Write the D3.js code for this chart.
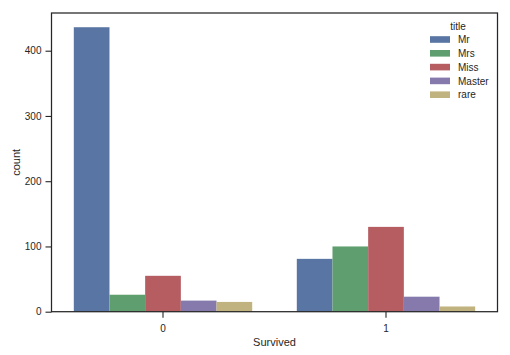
<!DOCTYPE html>
<html>
<head>
<meta charset="utf-8">
<script src="https://cdn.jsdelivr.net/npm/d3@7"></script>
<style>
  html, body { margin: 0; padding: 0; background: #fff; }
  svg text { font-family: "Liberation Sans", Arial, sans-serif; fill: #262626; }
</style>
</head>
<body>
<svg id="chart" width="510" height="355"></svg>
<script>
const categories = ["0", "1"];
const titles = ["Mr", "Mrs", "Miss", "Master", "rare"];
const colors = ["#5975a4", "#5f9e6e", "#b55d60", "#857aab", "#c1b37f"];
const counts = {
  "Mr":     [436, 81],
  "Mrs":    [26, 100],
  "Miss":   [55, 130],
  "Master": [17, 23],
  "rare":   [15, 8]
};
const yTicks = [0, 100, 200, 300, 400];

const svg = d3.select("#chart");
const m = { left: 51.5, right: 497.5, top: 13, bottom: 311.7 };

const x = d3.scaleBand().domain(categories).range([m.left, m.right]).padding(0);
const inner = d3.scaleBand().domain(titles)
  .range([x.bandwidth() * 0.1, x.bandwidth() * 0.9]).padding(0);
const maxVal = d3.max(titles, t => d3.max(counts[t]));
const y = d3.scaleLinear().domain([0, maxVal * 1.05]).range([m.bottom, m.top]);

const data = [];
categories.forEach((c, ci) => titles.forEach((t, ti) => data.push({ c, t, v: counts[t][ci], color: colors[ti] })));

svg.append("g").selectAll("rect").data(data).join("rect")
  .attr("x", d => x(d.c) + inner(d.t))
  .attr("width", inner.bandwidth())
  .attr("y", d => y(d.v))
  .attr("height", d => y(0) - y(d.v))
  .attr("fill", d => d.color);

// axes
const xAxis = d3.axisBottom(x).tickSizeInner(6).tickSizeOuter(0).tickPadding(7);
const gx = svg.append("g").attr("transform", `translate(0,${m.bottom})`).call(xAxis);
const yAxis = d3.axisLeft(y).tickValues(yTicks).tickSizeInner(6).tickSizeOuter(0).tickPadding(4);
const gy = svg.append("g").attr("transform", `translate(${m.left},0)`).call(yAxis);
[gx, gy].forEach(g => {
  g.select(".domain").remove();
  g.selectAll(".tick line").attr("stroke", "#262626").attr("stroke-width", 1.1);
  g.selectAll(".tick text").attr("font-size", 10).style("fill", "#262626")
    .attr("font-family", "Liberation Sans, Arial, sans-serif");
});

// frame
svg.append("rect")
  .attr("x", m.left).attr("y", m.top)
  .attr("width", m.right - m.left).attr("height", m.bottom - m.top)
  .attr("fill", "none").attr("stroke", "#262626").attr("stroke-width", 1.25);

// axis labels
svg.append("text").attr("x", (m.left + m.right) / 2).attr("y", 345.5)
  .attr("text-anchor", "middle").attr("font-size", 11).text("Survived");
svg.append("text").attr("transform", `translate(19.5,${(m.top + m.bottom) / 2}) rotate(-90)`)
  .attr("text-anchor", "middle").attr("font-size", 11).text("count");

// legend
const lg = svg.append("g");
lg.append("text").attr("x", 458).attr("y", 29.5).attr("text-anchor", "middle")
  .attr("font-size", 10).text("title");
titles.forEach((t, i) => {
  const cy = 39.5 + i * 13.8;
  lg.append("rect").attr("x", 430).attr("y", cy - 3.3).attr("width", 20).attr("height", 6.6)
    .attr("fill", colors[i]);
  lg.append("text").attr("x", 458).attr("y", cy + 3.6).attr("font-size", 10).text(t);
});
</script>
</body>
</html>
